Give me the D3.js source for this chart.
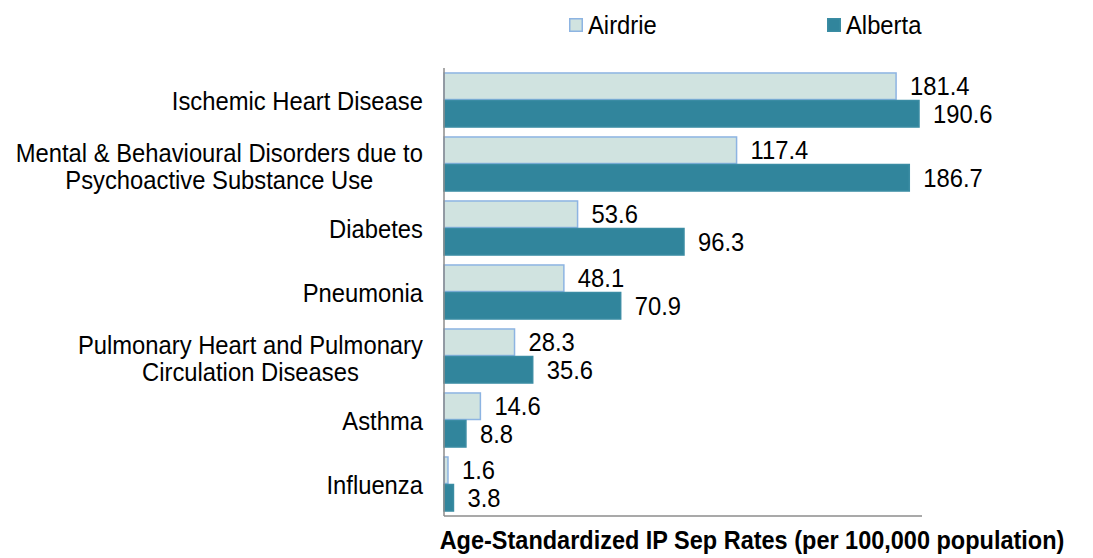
<!DOCTYPE html>
<html lang="en">
<head>
<meta charset="UTF-8">
<title></title>
<script src="https://d3js.org/d3.v7.min.js"></script>
<style>
  body { margin: 0; background: #fff; }
  text { font-family: "Liberation Sans", Arial, sans-serif; fill: #000; }
</style>
</head>
<body>
<script>

var w = 1093;
var h = 558;

var categories = ["Ischemic Heart Disease",
                  "Mental & Behavioural Disorders due to|Psychoactive Substance Use",
                  "Diabetes",
                  "Pneumonia",
                  "Pulmonary Heart and Pulmonary|Circulation Diseases",
                  "Asthma",
                  "Influenza"];
var airdrie = [181.4, 117.4, 53.6, 48.1, 28.3, 14.6, 1.6];
var alberta = [190.6, 186.7, 96.3, 70.9, 35.6, 8.8, 3.8];
var seriesNames = ["Airdrie", "Alberta"];
var fills = ["#d0e3e0", "#31859c"];
var strokes = ["#8db4e2", "#3b8ca3"];

var plotLeft = 444, plotRight = 922, plotTop = 68, plotBottom = 516;
var fontSize = "23.8px";
var stretch = 1.1;   // text in the original is a bit taller than wide

function place(x, y) { return "translate(" + x + "," + y + ") scale(1," + stretch + ")"; }

var svg = d3.select("body").append("svg")
    .attr("width", w)
    .attr("height", h);

var x = d3.scaleLinear().domain([0, 191.8]).range([plotLeft, plotRight]);
var y = d3.scaleBand().domain(d3.range(categories.length)).range([plotTop, plotBottom]).paddingInner(0.14).paddingOuter(0.07);
var inner = d3.scaleBand().domain([0, 1]).range([0, y.bandwidth()]);

var groups = svg.selectAll("g.cat")
    .data(categories)
    .enter()
    .append("g")
    .attr("class", "cat")
    .attr("transform", function(d, i) { return "translate(0," + y(i) + ")"; });

// category labels: block right-aligned to the axis, lines centred inside it
groups.each(function(d) {
    var lines = d.split("|");
    var g = d3.select(this);
    var mid = y.bandwidth() / 2;
    var texts = lines.map(function(l) {
        return g.append("text")
            .attr("text-anchor", "middle")
            .attr("font-size", fontSize)
            .text(l);
    });
    var maxW = d3.max(texts, function(t) { return t.node().getComputedTextLength(); });
    var cx = 423 - maxW / 2;
    texts.forEach(function(t, k) {
        t.attr("transform", place(cx, mid + 9.5 + (lines.length - 1) * 2 + (k - (lines.length - 1) / 2) * 27));
    });
});

[airdrie, alberta].forEach(function(vals, s) {
    groups.append("rect")
        .attr("x", x(0))
        .attr("y", inner(s) + 0.5)
        .attr("width", function(d, i) { return x(vals[i]) - x(0); })
        .attr("height", inner.bandwidth() - 1)
        .attr("fill", fills[s])
        .attr("stroke", strokes[s])
        .attr("stroke-width", 1.5);

    groups.append("text")
        .attr("font-size", fontSize)
        .attr("transform", function(d, i) { return place(x(vals[i]) + 14, inner(s) + inner.bandwidth() / 2 + 9); })
        .text(function(d, i) { return vals[i].toFixed(1); });
});

// axes
svg.append("line")
    .attr("x1", plotLeft).attr("x2", plotLeft)
    .attr("y1", plotTop).attr("y2", plotBottom)
    .attr("stroke", "#8c8c8c").attr("stroke-width", 1.5);
svg.append("line")
    .attr("x1", plotLeft).attr("x2", plotRight)
    .attr("y1", plotBottom).attr("y2", plotBottom)
    .attr("stroke", "#8c8c8c").attr("stroke-width", 1.5);

svg.append("text")
    .attr("text-anchor", "middle")
    .attr("font-size", "23.5px")
    .attr("font-weight", "bold")
    .attr("transform", place(752, 549))
    .text("Age-Standardized IP Sep Rates (per 100,000 population)");

// legend
var legendX = [569, 827];
var legend = svg.selectAll("g.leg")
    .data(seriesNames)
    .enter()
    .append("g")
    .attr("class", "leg")
    .attr("transform", function(d, i) { return "translate(" + legendX[i] + ",18)"; });
legend.append("rect")
    .attr("x", 0.75).attr("y", 0.75)
    .attr("width", 12.5).attr("height", 12.5)
    .attr("fill", function(d, i) { return fills[i]; })
    .attr("stroke", function(d, i) { return strokes[i]; })
    .attr("stroke-width", 1.5);
legend.append("text")
    .attr("font-size", fontSize)
    .attr("transform", place(19, 15.5))
    .text(function(d) { return d; });

</script>
</body>
</html>
